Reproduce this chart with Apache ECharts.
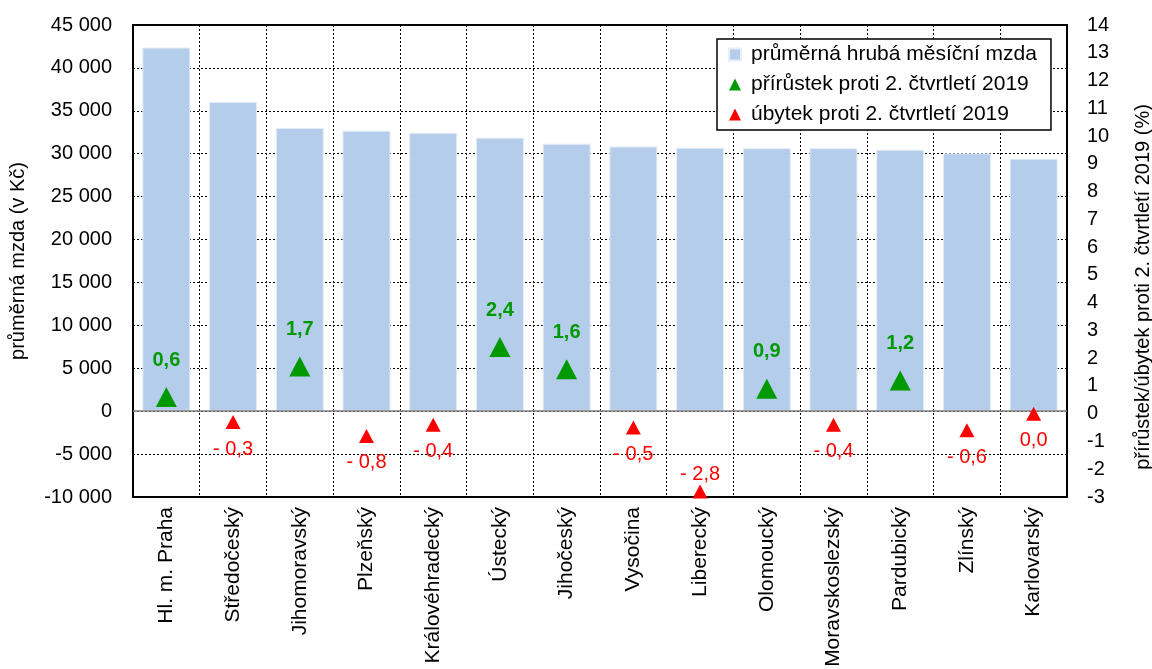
<!DOCTYPE html>
<html>
<head>
<meta charset="utf-8">
<script src="https://cdn.jsdelivr.net/npm/echarts@6/dist/echarts.min.js"></script>
<style>html,body{margin:0;padding:0;background:#fff}#c{width:1152px;height:669px}</style>
</head>
<body>
<div id="c"></div>
<script>
const categories = ['Hl. m. Praha','Středočeský','Jihomoravský','Plzeňský','Královéhradecký','Ústecký','Jihočeský','Vysočina','Liberecký','Olomoucký','Moravskoslezský','Pardubický','Zlínský','Karlovarský'];
const wages = [42370, 36050, 33000, 32690, 32450, 31870, 31170, 30850, 30700, 30650, 30650, 30470, 30040, 29420];
const changes = [0.6, -0.3, 1.7, -0.8, -0.4, 2.4, 1.6, -0.5, -2.8, 0.9, -0.4, 1.2, -0.6, 0.0];
const leftTicks = {min: -10000, max: 45000, interval: 5000};
const rightTicks = {min: -3, max: 14, interval: 1};

const FONT = 'Liberation Sans, Arial, sans-serif';
const growth = changes.map(v => v > 0 ? v : null);
const decline = changes.map((v, i) => v <= 0 ? (i === 8 ? {value: v, label: {position: 'top', distance: 0}} : v) : null);
const fmt = v => v.toFixed(1).replace('.', ',');

const chart = echarts.init(document.getElementById('c'));
chart.setOption({
  animation: false,
  textStyle: {fontFamily: FONT},
  grid: {left: 133, right: 85, top: 25, bottom: 172, outerBoundsMode: 'none', containLabel: false,
    show: true, borderColor: '#000', borderWidth: 2, backgroundColor: 'transparent'},
  legend: {
    orient: 'vertical', left: 717, top: 39,
    backgroundColor: '#fff', borderColor: '#000', borderWidth: 1.5,
    padding: [5, 14, 5, 11], itemGap: 9, itemWidth: 12, itemHeight: 12,
    textStyle: {fontSize: 21, color: '#000', fontFamily: FONT, padding: [0, 0, 0, 5]},
    data: [
      {name: 'průměrná hrubá měsíční mzda', icon: 'rect'},
      {name: 'přírůstek proti 2. čtvrtletí 2019', icon: 'triangle'},
      {name: 'úbytek proti 2. čtvrtletí 2019', icon: 'triangle'}
    ]
  },
  xAxis: {
    type: 'category', data: categories,
    axisLine: {onZero: false, lineStyle: {color: '#000', width: 2}},
    axisTick: {show: false},
    splitLine: {show: true, lineStyle: {color: '#000', type: [2, 2], width: 1}},
    axisLabel: {rotate: 90, fontSize: 21, color: '#000', margin: 10, fontFamily: FONT, interval: 0}
  },
  yAxis: [
    {
      type: 'value', min: leftTicks.min, max: leftTicks.max, interval: leftTicks.interval,
      name: 'průměrná mzda (v Kč)', nameLocation: 'middle', nameGap: 105, nameRotate: 90,
      nameTextStyle: {fontSize: 20, color: '#000', fontFamily: FONT},
      axisLine: {show: true, lineStyle: {color: '#000', width: 2}},
      axisTick: {show: false},
      splitLine: {show: true, lineStyle: {color: '#000', type: [2, 2], width: 1}},
      axisLabel: {fontSize: 20, color: '#000', margin: 21, fontFamily: FONT,
        formatter: v => String(v).replace(/\B(?=(\d{3})+(?!\d))/g, ' ')}
    },
    {
      type: 'value', min: rightTicks.min, max: rightTicks.max, interval: rightTicks.interval,
      name: 'přírůstek/úbytek proti 2. čtvrtletí 2019 (%)', nameLocation: 'middle', nameGap: 66, nameRotate: 90,
      nameTextStyle: {fontSize: 20, color: '#000', fontFamily: FONT, padding: [0, 52, 0, 0]},
      axisLine: {show: true, lineStyle: {color: '#000', width: 2}},
      axisTick: {show: false},
      splitLine: {show: false},
      axisLabel: {fontSize: 20, color: '#000', margin: 20, fontFamily: FONT}
    }
  ],
  series: [
    {
      name: 'průměrná hrubá měsíční mzda', type: 'bar', data: wages, yAxisIndex: 0,
      barCategoryGap: '28%',
      itemStyle: {color: '#B3CDEA', borderColor: '#E6EEF8', borderWidth: 1},
      markLine: {silent: true, symbol: 'none', label: {show: false},
        lineStyle: {color: '#808080', type: 'solid', width: 1.5}, data: [{yAxis: 0}]},
      z: 1
    },
    {
      name: 'přírůstek proti 2. čtvrtletí 2019', type: 'scatter', data: growth, yAxisIndex: 1,
      symbol: 'triangle', symbolSize: [21, 20],
      itemStyle: {color: '#009900', opacity: 1},
      label: {show: true, position: 'top', distance: 17, fontSize: 20, fontWeight: 'bold', color: '#009900', fontFamily: FONT,
        formatter: p => fmt(p.value)},
      z: 5
    },
    {
      name: 'úbytek proti 2. čtvrtletí 2019', type: 'scatter', data: decline, yAxisIndex: 1,
      symbol: 'triangle', symbolSize: [15, 14],
      itemStyle: {color: '#FF0000', opacity: 1},
      label: {show: true, position: 'bottom', distance: 10, fontSize: 20, color: '#FF0000', fontFamily: FONT,
        formatter: p => { const v = Array.isArray(p.value) ? p.value[1] : p.value; return v < 0 ? '- ' + fmt(-v) : fmt(v); }},
      z: 5
    }
  ]
});
</script>
</body>
</html>
